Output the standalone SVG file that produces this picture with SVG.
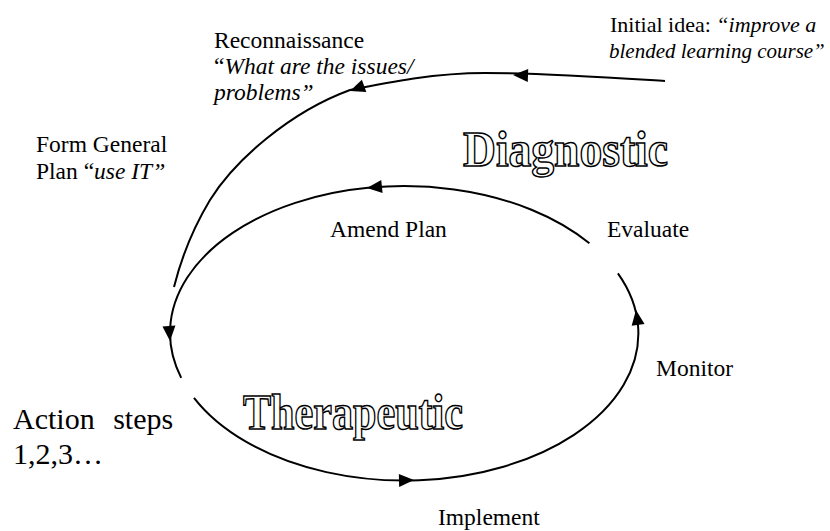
<svg xmlns="http://www.w3.org/2000/svg" width="830" height="531" viewBox="0 0 830 531">
<style>
.lbl{font-family:"Liberation Serif","Times New Roman",serif;font-size:23.5px;fill:#000}
.sm{font-size:22px}
.xs{font-size:21px}
.it{font-style:italic}
.big{font-family:"Liberation Serif","Times New Roman",serif;font-size:50px;font-weight:bold;fill:#fff;stroke:#000;stroke-width:1.5px}
.act{font-family:"Liberation Serif","Times New Roman",serif;font-size:30px;fill:#000}
.ln{fill:none;stroke:#000;stroke-width:2}
</style>
<defs>
<polygon id="ah" points="0,0 -15,-6.5 -15,6.5" fill="#000"/>
</defs>
<rect width="830" height="531" fill="#fff"/>
<g id="connectors">
<path class="ln" d="M617.9,273.4 A234,147 0 0 1 194.0,397.9"/>
<path class="ln" d="M181.2,377.9 A234,147 0 0 1 589.4,243.3"/>
<path class="ln" stroke-width="1.8" d="M665,81 C600,77 540,73 485,73 C435,73 390,82 350,90 C290,112 235,160 210,200 C195,225 182,255 174,287"/>
<use href="#ah" transform="translate(367,188) rotate(174)"/>
<use href="#ah" transform="translate(170,341) rotate(86)"/>
<use href="#ah" transform="translate(414,480) rotate(-1.5)"/>
<use href="#ah" transform="translate(636,310) rotate(-98)"/>
<use href="#ah" transform="translate(513,75) rotate(182)"/>
<use href="#ah" transform="translate(350,91) rotate(160)"/>
</g>
<g id="initial-idea">
<text class="lbl sm" x="610" y="32">Initial idea: <tspan class="it">“improve a</tspan></text>
<text class="lbl xs it" x="609" y="58">blended learning course”</text>
</g>
<g id="reconnaissance">
<text class="lbl" x="214" y="48">Reconnaissance</text>
<text class="lbl" x="214" y="74">“<tspan class="it">What are the issues/</tspan></text>
<text class="lbl it" x="214" y="100">problems”</text>
</g>
<g id="form-general-plan">
<text class="lbl" x="36" y="152">Form General</text>
<text class="lbl" x="36" y="179">Plan “<tspan class="it">use IT”</tspan></text>
</g>
<g id="diagnostic"><text class="big" x="463" y="166" textLength="205" lengthAdjust="spacingAndGlyphs">Diagnostic</text></g>
<g id="amend-plan"><text class="lbl" x="330" y="237">Amend Plan</text></g>
<g id="evaluate"><text class="lbl" x="607" y="237">Evaluate</text></g>
<g id="monitor"><text class="lbl" x="656" y="376">Monitor</text></g>
<g id="therapeutic"><text class="big" x="243" y="429" textLength="220" lengthAdjust="spacingAndGlyphs">Therapeutic</text></g>
<g id="action-steps">
<text class="act" x="13" y="429" word-spacing="11">Action steps</text>
<text class="act" x="13" y="464">1,2,3…</text>
</g>
<g id="implement"><text class="lbl" x="438" y="525">Implement</text></g>
</svg>
